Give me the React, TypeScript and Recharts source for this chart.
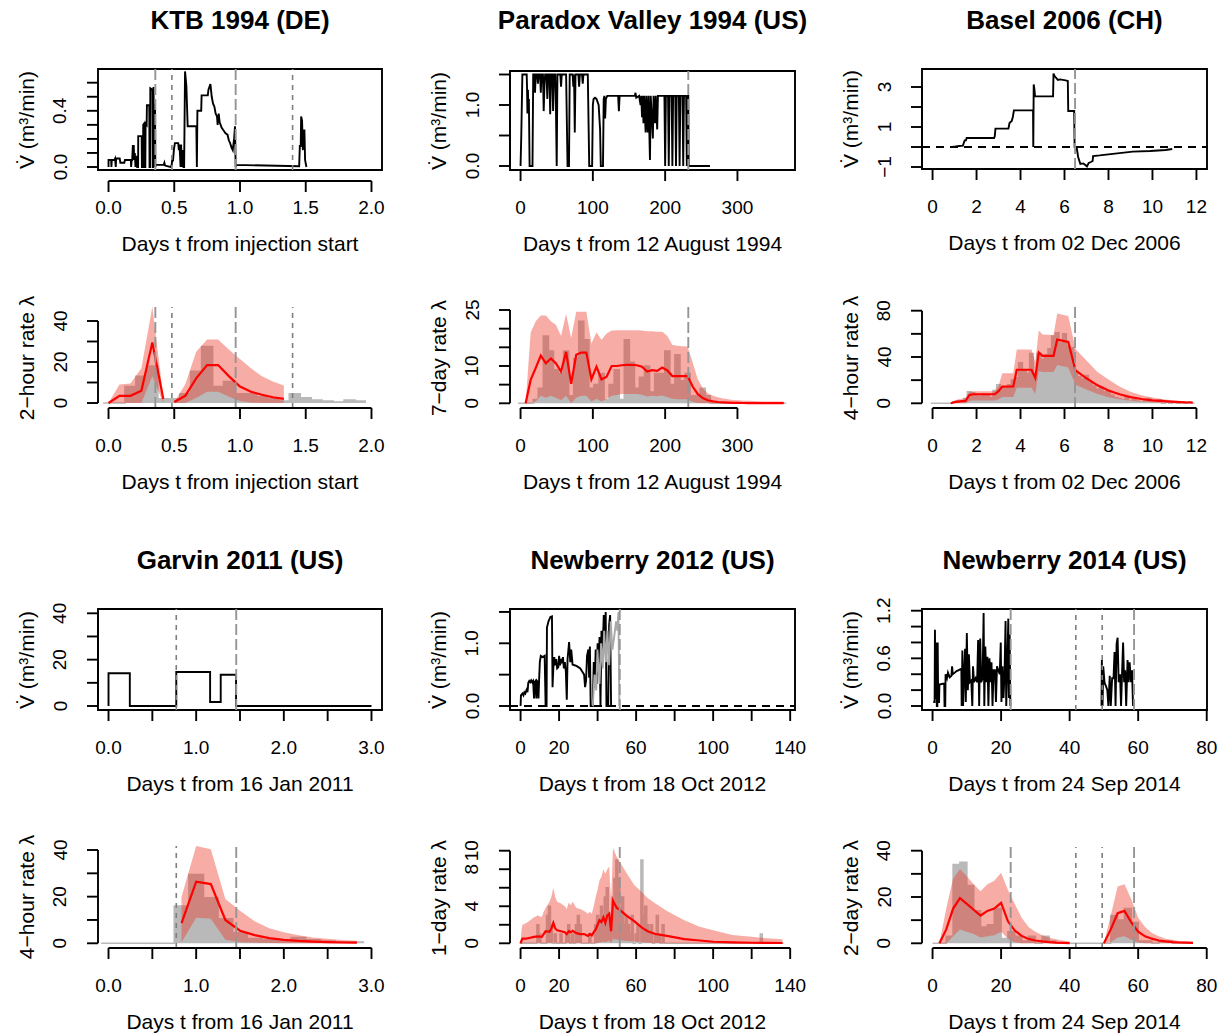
import React from 'react';
import { ComposedChart, Line, Area, XAxis, YAxis, ReferenceLine, ReferenceArea } from 'recharts';

const FONT = '"Liberation Sans", Arial, Helvetica, sans-serif';
const TICK_FS = 19;
const LAB_FS = 21;
const MAIN_FS = 26;

// ================= TEXT =================
const panelTitles = ['KTB 1994 (DE)', 'Paradox Valley 1994 (US)', 'Basel 2006 (CH)', 'Garvin 2011 (US)', 'Newberry 2012 (US)', 'Newberry 2014 (US)'];
const xTitles = ['Days t from injection start', 'Days t from 12 August 1994', 'Days t from 02 Dec 2006', 'Days t from 16 Jan 2011', 'Days t from 18 Oct 2012', 'Days t from 24 Sep 2014'];
const flowTitle = 'V\u0307 (m\u00b3/min)';
const rateTitles = ['2\u2212hour rate \u03bb', '7\u2212day rate \u03bb', '4\u2212hour rate \u03bb', '4\u2212hour rate \u03bb', '1\u2212day rate \u03bb', '2\u2212day rate \u03bb'];

// ================= TICKS =================
const ktbXTicks = [0, 0.5, 1, 1.5, 2];
const ktbXLabels = ['0.0', '0.5', '1.0', '1.5', '2.0'];
const pvXTicks = [0, 100, 200, 300];
const pvXLabels = ['0', '100', '200', '300'];
const bsXTicks = [0, 2, 4, 6, 8, 10, 12];
const bsXLabels = ['0', '2', '4', '6', '8', '10', '12'];
const gvXTicks = [0, 0.5, 1, 1.5, 2, 2.5, 3];
const gvXLabels = ['0.0', '', '1.0', '', '2.0', '', '3.0'];
const nb12XTicks = [0, 20, 40, 60, 80, 100, 120, 140];
const nb12XLabels = ['0', '20', '', '60', '', '100', '', '140'];
const nb14XTicks = [0, 20, 40, 60, 80];
const nb14XLabels = ['0', '20', '40', '60', '80'];

const ktbFlowYTicks = [0, 0.1, 0.2, 0.3, 0.4, 0.5, 0.6];
const ktbFlowYLabels = ['0.0', '', '', '', '0.4', '', ''];
const pvFlowYTicks = [0, 0.5, 1, 1.5];
const pvFlowYLabels = ['0.0', '', '1.0', ''];
const bsFlowYTicks = [-1, 0, 1, 2, 3];
const bsFlowYLabels = ['\u22121', '', '1', '', '3'];
const gvFlowYTicks = [0, 10, 20, 30, 40];
const gvFlowYLabels = ['0', '', '20', '', '40'];
const nb12FlowYTicks = [0, 0.5, 1, 1.5];
const nb12FlowYLabels = ['0.0', '', '1.0', ''];
const nb14FlowYTicks = [0, 0.2, 0.4, 0.6, 0.8, 1.0, 1.2];
const nb14FlowYLabels = ['0.0', '', '', '0.6', '', '', '1.2'];

const ktbRateYTicks = [0, 10, 20, 30, 40];
const ktbRateYLabels = ['0', '', '20', '', '40'];
const pvRateYTicks = [0, 5, 10, 15, 20, 25];
const pvRateYLabels = ['0', '', '10', '', '', '25'];
const bsRateYTicks = [0, 20, 40, 60, 80];
const bsRateYLabels = ['0', '', '40', '', '80'];
const gvRateYTicks = [0, 10, 20, 30, 40];
const gvRateYLabels = ['0', '', '20', '', '40'];
const nb12RateYTicks = [0, 2, 4, 6, 8, 10];
const nb12RateYLabels = ['0', '', '4', '', '8', '10'];
const nb14RateYTicks = [0, 10, 20, 30, 40];
const nb14RateYLabels = ['0', '', '20', '', '40'];

// ================= EVENTS (vertical markers) =================
const ktbEvents = [[0.356, 'L'], [0.482, 'S'], [0.967, 'L'], [1.40, 'S']];
const pvEvents = [[232, 'L']];
const bsEvents = [[6.48, 'L']];
const gvEvents = [[0.773, 'S'], [1.457, 'L']];
const nb12Events = [[51.5, 'L']];
const nb14Events = [[22.8, 'L'], [41.8, 'S'], [49.5, 'S'], [58.8, 'L']];

// ================= FLOW DATA [t, V] =================
const ktbFlow = [
  [0.0, 0.0], [0.0, 0.05], [0.02, 0.05], [0.022, 0.0], [0.025, 0.05], [0.045, 0.05], [0.05, 0.06], [0.055, 0.0], [0.058, 0.06], [0.085, 0.06], [0.09, 0.03], [0.12, 0.03], [0.125, 0.05], [0.17, 0.05], [0.172, 0.0], [0.176, 0.05], [0.18, 0.05], [0.185, 0.15], [0.192, 0.15], [0.195, 0.05], [0.2, 0.1], [0.205, 0.0], [0.212, 0.08], [0.218, 0.0], [0.225, 0.0], [0.226, 0.22], [0.252, 0.22], [0.254, 0.0], [0.262, 0.0], [0.264, 0.3], [0.272, 0.31], [0.274, 0.0], [0.28, 0.0], [0.282, 0.31], [0.29, 0.3], [0.292, 0.44], [0.31, 0.44], [0.312, 0.0], [0.316, 0.0], [0.318, 0.56], [0.334, 0.55], [0.336, 0.0], [0.34, 0.0], [0.342, 0.57], [0.346, 0.3], [0.35, 0.0], [0.354, 0.45], [0.356, 0.0], [0.36, 0.015], [0.42, 0.015], [0.425, 0.03], [0.43, 0.01], [0.47, 0.0], [0.48, 0.01], [0.485, 0.06], [0.49, 0.04], [0.498, 0.13], [0.505, 0.17], [0.53, 0.17], [0.535, 0.12], [0.54, 0.16], [0.548, 0.0], [0.552, 0.16], [0.558, 0.0], [0.563, 0.12], [0.57, 0.0], [0.575, 0.0], [0.582, 0.68], [0.592, 0.58], [0.602, 0.29], [0.668, 0.29], [0.672, 0.0], [0.676, 0.4], [0.705, 0.4], [0.708, 0.51], [0.755, 0.51], [0.76, 0.55], [0.775, 0.59], [0.785, 0.5], [0.795, 0.45], [0.805, 0.43], [0.815, 0.38], [0.825, 0.36], [0.83, 0.3], [0.838, 0.38], [0.845, 0.32], [0.86, 0.28], [0.875, 0.26], [0.89, 0.24], [0.905, 0.23], [0.915, 0.19], [0.925, 0.17], [0.935, 0.14], [0.945, 0.12], [0.955, 0.2], [0.962, 0.29], [0.967, 0.0], [0.97, 0.015], [1.45, 0.005], [1.455, 0.15], [1.462, 0.15], [1.465, 0.36], [1.472, 0.33], [1.478, 0.12], [1.482, 0.26], [1.49, 0.26], [1.495, 0.05], [1.505, 0.0],
];

const pvFlow = [
  [0, 0], [1, 0.5], [2.5, 1.5], [8.5, 1.5], [9, 1.27], [9.5, 0.86], [10.2, 1.25], [10.8, 0.9], [11.5, 1.1], [12.5, 0], [16.5, 0], [17.5, 1.5], [19, 1.5], [20, 1.2], [21, 1.5], [23, 1.5], [24, 1.35], [25, 1.5], [27, 1.5], [28, 1.2], [29, 1.5], [31, 1.5], [32, 0.9], [33, 1.3], [34, 1.5], [36, 1.5], [37, 1.1], [38, 1.5], [40, 1.5], [41, 0.85], [42, 1.5], [44, 1.5], [45, 0.9], [46, 1.5], [48, 1.5], [49, 0.9], [50, 0], [51, 1.5], [55, 1.5], [56, 1.3], [57, 1.5], [63, 1.5], [65, 0], [67, 0], [68, 1.5], [72, 1.5], [73, 1.3], [74, 1.5], [75, 0.55], [76, 1.5], [80, 1.5], [81, 1.3], [82, 1.5], [85, 1.5], [86, 1.35], [87, 1.5], [93, 1.5], [95, 0], [99, 0], [100, 1.0], [101, 1.1], [103, 1.12], [105, 1.1], [108, 1.0], [110, 0.6], [111, 0], [114, 0], [115, 1.1], [116, 1.15], [117, 0.78], [118, 1.1], [120, 1.15], [135, 1.15], [136, 0.9], [137, 1.15], [158, 1.15], [159, 1.2], [160, 1.12], [164, 1.15], [166, 1.0], [167, 1.15], [168, 0.8], [169, 1.15], [170, 0.7], [171, 1.15], [173, 0.55], [174, 1.15], [176, 0.55], [177, 1.15], [179, 0.1], [180, 1.15], [183, 0.45], [184, 1.15], [186, 0.7], [187, 1.15], [189, 0.6], [190, 1.15], [199, 1.15], [200, 0], [201, 1.15], [204, 1.15], [205, 0], [206, 1.15], [209, 1.15], [210, 0], [211, 1.15], [214, 1.15], [215, 0], [216, 1.15], [219, 1.15], [220, 0], [221, 1.15], [224, 1.15], [225, 0], [226, 1.15], [229, 1.15], [230, 0], [231, 1.15], [232, 1.15], [232.5, 0], [262, 0],
];

const bsFlow = [
  [0.85, 0], [1.0, 0.02], [1.2, 0.05], [1.38, 0.07], [1.42, 0.2], [1.46, 0.33], [1.52, 0.33], [1.55, 0.45], [2.8, 0.45], [2.83, 0.55], [2.86, 0.92], [3.45, 0.92], [3.5, 1.2], [3.6, 1.3], [3.65, 1.5], [3.7, 1.83], [4.57, 1.83], [4.58, 0], [4.6, 3.13], [4.63, 2.9], [4.66, 2.53], [5.48, 2.53], [5.5, 3.67], [5.55, 3.55], [5.62, 3.45], [5.7, 3.35], [5.8, 3.38], [6.05, 3.33], [6.15, 3.3], [6.17, 1.8], [6.44, 1.8], [6.46, 0], [6.55, 0], [6.62, -0.5], [6.72, -0.85], [6.85, -0.82], [6.95, -0.9], [7.02, -0.97], [7.1, -0.8], [7.2, -0.75], [7.28, -0.7], [7.3, -0.45], [7.6, -0.42], [8.0, -0.37], [8.4, -0.32], [9.1, -0.23], [9.9, -0.2], [10.6, -0.15], [10.9, -0.1],
];

const gvFlow = [
  [0, 0], [0, 14.1], [0.243, 14.1], [0.243, 0], [0.773, 0], [0.773, 14.7], [1.159, 14.7], [1.159, 1.7], [1.28, 1.7], [1.28, 13.5], [1.455, 13.5], [1.455, 0], [3.0, 0],
];

const nb12Flow = [
  [0, 0], [0.2, 0.17], [1, 0.2], [1.5, 0.17], [2, 0.22], [2.5, 0.2], [3, 0.25], [3.3, 0.27], [3.6, 0.22], [4, 0.37], [4.5, 0.4], [5, 0.38], [5.5, 0.41], [6, 0.38], [6.5, 0.4], [7, 0.12], [7.3, 0.38], [7.8, 0.4], [8.2, 0.12], [8.5, 0.4], [9, 0.38], [9.3, 0.12], [9.6, 0.4], [10, 0.7], [10.5, 0.8], [11.5, 0.78], [12.5, 0.8], [13, 0], [13.5, 0], [13.7, 1.25], [14.5, 1.35], [15.5, 1.42], [16.3, 1.43], [16.6, 0.3], [17, 0.6], [17.5, 0.78], [18, 0.65], [18.5, 0.75], [19, 0.6], [19.6, 0.62], [20, 0.8], [20.5, 0.65], [21, 0.75], [21.4, 0.68], [22, 0.78], [22.5, 0.6], [23, 0.7], [23.5, 0.55], [24, 0.1], [24.4, 0.75], [25.2, 1.02], [25.8, 0.7], [26.3, 0.9], [27, 0.66], [28, 0.65], [29, 0.64], [30, 0.62], [31, 0.6], [32, 0.55], [33, 0.5], [33.5, 0.3], [34, 0.4], [34.5, 0.8], [35.2, 0.9], [35.6, 0.45], [36, 0.95], [36.4, 0], [37.5, 0], [38, 0.7], [38.5, 0.3], [39, 0.9], [39.5, 0.35], [40, 1.0], [40.5, 0.5], [41, 1.1], [41.5, 0], [42, 1.2], [42.5, 0.8], [43.2, 1.45], [43.7, 1.1], [44.2, 1.5], [44.6, 0], [45.5, 0], [46, 1.3], [46.5, 1.45], [47, 0],
];
const nb12Flow2 = [
  [37.5, 0], [38.4, 0.5], [39.3, 0.25], [39.9, 0.9], [41.0, 0.35], [41.8, 1.0], [42.7, 0.6], [43.4, 1.2], [44.3, 0.7], [45.1, 1.2], [46.0, 0.65], [46.8, 1.35], [47.7, 0.9], [48.6, 1.1], [49.6, 1.35], [50.3, 1.2], [50.8, 1.5], [51.3, 0],
];

const nb14FlowA = [
  [0.2, 0.05], [0.6, 0.05], [0.7, 0.96], [0.85, 0.1], [1.0, 0.1], [1.1, 0.8], [1.25, 0], [1.4, 0], [1.5, 0.8], [1.65, 0.05], [1.9, 0.05], [2.0, 0.27], [3.0, 0.28], [3.4, 0.28], [3.5, 0], [3.7, 0], [3.8, 0.4], [4.2, 0.35], [4.5, 0.42], [5.0, 0.36], [5.5, 0.38], [5.7, 0.5], [5.9, 0.4], [6.5, 0.42], [7.0, 0.44], [7.5, 0.45], [8.0, 0.46], [8.4, 0.47], [8.5, 0], [8.7, 0.7], [8.9, 0], [9.2, 0.4], [9.5, 0.72], [9.7, 0.05], [10.0, 0.92], [10.3, 0.2], [10.6, 0.65], [10.9, 0.3], [11.3, 0.32], [11.6, 0.0], [11.8, 0.5], [12.1, 0.3], [12.6, 0.35], [13.0, 0.3], [13.3, 0.83], [13.6, 0.0], [13.9, 0.85], [14.2, 0.3], [14.6, 0.35], [14.9, 1.17], [15.1, 0], [15.4, 0.75], [15.7, 0.3], [16.0, 0.62], [16.3, 0], [16.6, 0.6], [16.9, 0.3], [17.2, 0.55], [17.5, 0], [17.8, 0.45], [18.2, 0.45], [18.5, 0.05], [18.8, 0.5], [19.2, 0.45], [19.6, 0.4], [19.9, 0.8], [20.1, 0.05], [20.4, 0.5], [20.7, 0.1], [21.0, 0.4], [21.3, 1.07], [21.5, 0], [21.8, 0.45], [22.1, 1.1], [22.3, 0.1], [22.5, 0.9], [22.7, 0],
];
const nb14FlowB = [
  [49.3, 0], [49.4, 0.58], [49.6, 0], [49.8, 0.5], [50.2, 0.29], [50.6, 0.25], [51.0, 0.2], [51.3, 0], [51.7, 0.38], [52.0, 0], [52.4, 0.35], [52.8, 0.35], [53.1, 0.68], [53.4, 0], [53.7, 0.78], [54.0, 0.86], [54.3, 0.3], [54.7, 0.4], [55.0, 0], [55.3, 0.42], [55.6, 0.8], [55.9, 0.3], [56.2, 0.45], [56.5, 0], [56.9, 0.58], [57.2, 0.3], [57.5, 0.55], [57.9, 0.3], [58.2, 0.45], [58.5, 0],
];

// ================= OBSERVED COUNTS (histograms) =================
const ktbBinWidth = 1 / 12;
const ktbFirstCenter = 0;
const ktbCounts = [0, 0, 8, 13, 18, 2, 2, 4.5, 15.5, 27.5, 8, 10.5, 4.5, 4.5, 3, 2, 1, 4.5, 2.5, 1.5, 1, 0.5, 1.5, 1];

const pvBinWidth = 7;
const pvFirstCenter = 0;
const pvCounts = [0, 0, 0, 1, 4, 18, 14, 9, 8, 14, 2, 12, 22, 17, 4, 5, 8, 1, 5, 9, 1, 17, 11, 4, 7, 10, 3, 8, 8, 14, 5, 13, 6, 8, 2, 2, 4, 2, 0, 0, 0, 0, 0, 0, 0, 0, 0, 0, 0, 0, 0, 0, 0];

const bsBinWidth = 1 / 6;
const bsFirstCenter = 0;
const bsCounts = [
  0, 0, 0, 0, 0, 0, 1, 2, 1, 4, 10, 9, 7, 6, 8, 7, 5, 11, 16, 14, 13, 16, 20, 22,
  35, 28, 26, 43, 25, 43, 38, 42, 47, 58, 61, 52, 60, 49, 48, 26, 23, 21, 24, 18, 15, 12, 14, 10,
  11, 7, 5, 4, 3, 5, 2, 3, 2, 1, 2, 4, 1, 1, 3, 0, 1, 0, 1, 0, 1, 0, 1, 0,
];

const gvBinWidth = 1 / 6;
const gvFirstCenter = 0;
const gvCounts = [0, 0, 0, 0, 0, 16, 29.5, 19.5, 10.5, 4.5, 2, 1.5, 1, 2.5, 1.5, 1, 0.5, 0.5];

const nb12BinWidth = 1;
const nb12FirstCenter = 0;
const nb12Counts = [
  0, 0, 0, 0, 0, 0, 0, 0, 0, 2,
  1, 0, 0, 0, 3, 4, 2, 0, 1, 0,
  0, 1, 0, 0, 1, 2, 0, 1, 0, 2,
  3, 2, 0, 0, 0, 0, 1, 0, 0, 2,
  3, 2, 4, 2, 5, 6, 3, 2, 5, 7,
  9, 7, 3, 5, 2, 3, 2, 1, 3, 0,
  1, 2, 0, 9, 3, 4, 2, 1, 2, 0,
  1, 3, 1, 0, 2, 0, 0, 0, 0, 0,
  0, 0, 0, 0, 0, 0, 0, 0, 0, 0,
  0, 0, 0, 0, 0, 0, 0, 0, 0, 0,
  0, 0, 0, 0, 0, 0, 0, 0, 0, 0,
  0, 0, 0, 0, 0, 0, 0, 0, 0, 0,
  0, 0, 0, 0, 0, 1, 0, 0, 0, 0,
  0, 0, 0, 0, 0, 0, 0,
];

const nb14BinWidth = 2;
const nb14FirstCenter = 1;
const nb14Counts = [0, 0, 3, 34, 35, 25, 14, 7, 8, 15, 2, 5, 3, 1, 3, 0, 3, 1, 0, 0, 0, 0, 0, 0, 0, 0, 12, 10, 15, 9, 1, 1, 0, 1, 1, 0, 0, 0];

// ================= MODEL RATE (per segment): t, median, lower, upper =================
const ktbRateT = [[0, 1 / 12, 2 / 12, 3 / 12, 4 / 12, 5 / 12], [6 / 12, 7 / 12, 8 / 12, 9 / 12, 10 / 12, 11 / 12, 12 / 12, 13 / 12, 14 / 12, 15 / 12, 16 / 12]];
const ktbRateMid = [[0, 3.5, 3.5, 6, 29.5, 2], [0.5, 3.5, 12, 18.5, 18.5, 13, 8, 5.5, 4, 2.8, 2]];
const ktbRateLo = [[0, 0, 0, 0, 13, 0], [0, 0, 2.5, 5.5, 5.5, 3, 1, 0.3, 0, 0, 0]];
const ktbRateHi = [[0, 9, 9.5, 17, 47, 3], [0.5, 9, 25, 31, 31, 26, 21.5, 17, 13, 10.5, 8.5]];

const pvRateT = [[7, 14, 21, 28, 35, 42, 49, 56, 63, 70, 77, 84, 91, 98, 105, 112, 119, 126, 133, 140, 147, 154, 161, 168, 175, 182, 189, 196, 203, 210, 217, 224, 231, 238, 245, 252, 259, 266, 273, 280, 287, 294, 301, 308, 315, 322, 329, 336, 343, 350, 357, 364]];
const pvRateMid = [[0, 6.3, 9.5, 12.8, 10.7, 12, 10.7, 8.5, 13.8, 5.2, 13, 13.6, 13.6, 6.4, 9.8, 6.4, 7.1, 10, 10, 10.2, 10.3, 10.3, 10.2, 9.8, 8.5, 8.9, 8.7, 9.6, 8.8, 7.3, 7.3, 7.3, 7.3, 4.5, 2.5, 1.4, 0.8, 0.5, 0.35, 0.25, 0.18, 0.12, 0.1, 0.08, 0.07, 0.06, 0.05, 0.05, 0.05, 0.05, 0.04, 0.04]];
const pvRateLo = [[0, 0, 0.5, 2, 1.5, 2, 1.5, 0.8, 2, 0, 1.5, 2, 2, 0.5, 1.2, 0.5, 1.2, 2, 2.2, 2.5, 2.5, 2.5, 2.5, 2.3, 1.8, 2, 1.9, 2.1, 1.6, 1.2, 1.1, 1.1, 1.1, 0.4, 0.1, 0, 0, 0, 0, 0, 0, 0, 0, 0, 0, 0, 0, 0, 0, 0, 0, 0]];
const pvRateHi = [[0, 19, 22, 23.5, 23.5, 22, 21, 18, 24, 17.5, 24.5, 24.5, 24.5, 16, 19, 17, 18.7, 19.5, 19.6, 19.6, 19.6, 19.6, 19.6, 19.5, 19.3, 19.3, 19.2, 19.2, 18, 15.6, 15.4, 15.3, 15.2, 11, 6.5, 4, 2.7, 2, 1.6, 1.3, 1.1, 0.9, 0.8, 0.7, 0.65, 0.6, 0.55, 0.5, 0.5, 0.45, 0.45, 0.45]];

const bsRateT = [[0.83, 1.0, 1.17, 1.33, 1.5, 1.67, 1.83, 2.83, 3.0, 3.17, 3.67, 3.83, 4.5, 4.67, 4.83, 5.0, 5.5, 5.67, 6.17, 6.5, 7.0, 7.5, 8.0, 8.5, 9.0, 9.5, 10.0, 10.5, 11.0, 11.5, 11.83]];
const bsRateMid = [[0, 1, 1.5, 1.8, 2, 7, 7.8, 7.8, 10.5, 14.4, 14.5, 29, 29, 22, 44, 41, 41, 55, 53, 28.5, 21.6, 15.5, 11, 7.8, 5.3, 3.7, 2.6, 1.8, 1.2, 0.8, 0.7]];
const bsRateLo = [[0, 0, 0, 0, 0, 2, 2.5, 2.5, 3.5, 5.5, 5.5, 13.5, 13.5, 8, 28, 27, 27, 33, 31, 16, 12, 8, 5.2, 3.5, 2.2, 1.3, 0.8, 0.5, 0.3, 0.2, 0.1]];
const bsRateHi = [[0, 2.5, 3.5, 4, 4.5, 10, 10.5, 10.5, 15, 26, 26, 46.5, 46.5, 35, 63, 59.5, 59, 77.5, 75.5, 47, 37, 27, 20.5, 14.5, 10, 7, 5, 3.5, 2.5, 1.8, 1.5]];

const gvRateT = [[0.833, 1.0, 1.167, 1.333, 1.5, 1.667, 1.833, 2.0, 2.167, 2.333, 2.5, 2.667, 2.833]];
const gvRateMid = [[8.6, 26.4, 25.4, 10, 5.4, 3.5, 2.2, 1.5, 1.0, 0.7, 0.5, 0.35, 0.25]];
const gvRateLo = [[0.5, 11, 10.5, 1.5, 0.5, 0.2, 0.1, 0, 0, 0, 0, 0, 0]];
const gvRateHi = [[20, 41.7, 40.3, 19, 14, 9.5, 6.5, 4.7, 3.4, 2.5, 1.9, 1.4, 1.1]];

const nb12RateT = [[0, 0.5, 1, 3, 5, 7, 9, 11, 12, 13, 15, 16, 17, 18, 19, 21, 23, 24, 25, 26, 27, 29, 31, 33, 35, 36, 37, 38, 39, 40, 41, 42, 43, 44, 45, 46, 47, 48, 49, 50, 51, 55, 59, 63, 66, 70, 76, 85, 93, 100, 110, 120, 128, 136]];
const nb12RateMid = [[0, 0.3, 0.5, 0.5, 0.6, 0.7, 0.75, 0.7, 1.0, 1.3, 1.25, 1.6, 2.2, 1.6, 1.4, 1.3, 1.2, 1.0, 1.3, 1.2, 1.35, 1.1, 1.0, 1.0, 0.8, 1.0, 0.85, 1.2, 1.5, 2.0, 2.5, 2.3, 2.8, 2.2, 3.0, 3.2, 1.3, 4.6, 4.2, 3.8, 3.7, 3.0, 2.4, 1.7, 1.3, 1.0, 0.8, 0.45, 0.3, 0.17, 0.1, 0.06, 0.04, 0.03]];
const nb12RateLo = [[0, 0, 0, 0, 0, 0, 0, 0, 0, 0, 0, 0, 0.1, 0, 0, 0, 0, 0, 0, 0, 0, 0, 0, 0, 0, 0, 0, 0, 0, 0, 0.1, 0.1, 0.2, 0.1, 0.2, 0.3, 0, 0.5, 0.4, 0.4, 0.35, 0.25, 0.2, 0.1, 0.05, 0, 0, 0, 0, 0, 0, 0, 0, 0]];
const nb12RateHi = [[0, 1.5, 2, 2.2, 2.5, 2.8, 3, 2.8, 3.4, 3.8, 4.5, 5, 6, 5, 4.5, 4.3, 4, 3.7, 4.4, 4.1, 4.5, 3.8, 3.7, 3.5, 3.2, 3.4, 3.2, 4, 5, 5.8, 6.8, 7.2, 8, 7.5, 8, 8.3, 4.6, 10.3, 9.8, 9.3, 9.0, 7.6, 6.3, 5.5, 4.9, 4.3, 3.5, 2.5, 1.8, 1.4, 0.9, 0.7, 0.55, 0.45]];

const nb14RateT = [[2, 4, 6, 8, 10, 12, 14, 16, 18, 20, 22, 24, 26, 28, 30, 32, 34, 36, 38, 40], [50, 52, 54, 56, 58, 60, 62, 64, 66, 68, 70, 72, 74, 76]];
const nb14RateMid = [[0, 6, 15, 19.5, 17, 14.5, 12, 14, 15, 17.5, 9.5, 5.5, 3.2, 1.9, 1.2, 0.8, 0.5, 0.3, 0.2, 0.1], [0, 6, 13, 14, 9, 5, 3, 2, 1.2, 0.8, 0.5, 0.35, 0.25, 0.2]];
const nb14RateLo = [[0, 0, 3, 6, 5, 4, 2.5, 3, 3.5, 5, 2, 0.5, 0, 0, 0, 0, 0, 0, 0, 0], [0, 0.5, 2.5, 3, 1.5, 0.3, 0, 0, 0, 0, 0, 0, 0, 0]];
const nb14RateHi = [[0, 15, 28, 32, 29, 25.5, 22.5, 25.5, 27, 30.5, 23, 17, 11, 7, 5, 3.5, 2.5, 1.8, 1.2, 0.8], [0, 12, 24.5, 25.5, 19, 11, 7, 4.5, 3, 2, 1.5, 1, 0.8, 0.6]];

// ================= STYLE =================
const BAR = '#b9b9b9';
const BAND = 'rgb(235,60,40)';
const BAND_OP = 0.42;
const AXW = 1.9;
const TICK = 11;
const YW = 80;
const MT = 12;
const MR = 20;
const XH = 60;

// ================= HELPERS =================
const toPts = (pairs: number[][]) => pairs.map((p) => ({ x: p[0], y: p[1] }));

function histPts(firstCenter: number, width: number, counts: number[]) {
  const start = firstCenter - width / 2;
  const pts = counts.map((c, i) => ({ x: start + i * width, y: c }));
  pts.push({ x: start + counts.length * width, y: counts[counts.length - 1] });
  return pts;
}

function rateRows(T: number[][], M: number[][], Lo: number[][], Hi: number[][]) {
  return T.map((ts, s) => ts.map((t, i) => ({ x: t, mid: M[s][i], lo: Lo[s][i], hi: Hi[s][i] })));
}

function cal(v0: number, p0: number, v1: number, p1: number, top: number, bottom: number): [number, number] {
  const ppu = (p0 - p1) / (v1 - v0);
  return [v0 - (bottom - p0) / ppu, v1 + (p1 - top) / ppu];
}

function flowSeries(key: string, lines: { pts: number[][]; color: string }[]) {
  return lines.map((l, i) => (
    <Line key={key + i} data={toPts(l.pts)} dataKey="y" type="linear" stroke={l.color} strokeWidth={1.9} dot={false} activeDot={false} isAnimationActive={false} />
  ));
}

function rateSeries(key: string, hist: { x: number; y: number }[], segs: any[][]) {
  const out: React.ReactNode[] = [];
  out.push(
    <Area key={key + 'h'} data={hist} dataKey="y" type="stepAfter" baseValue={0} fill={BAR} fillOpacity={1} stroke={BAR} strokeWidth={1.6} dot={false} activeDot={false} isAnimationActive={false} />
  );
  segs.forEach((rows, i) => {
    out.push(
      <Area key={key + 'b' + i} data={rows} dataKey={(d: any) => [d.lo, d.hi]} type="linear" fill={BAND} fillOpacity={BAND_OP} stroke="none" dot={false} activeDot={false} isAnimationActive={false} />
    );
  });
  segs.forEach((rows, i) => {
    out.push(
      <Line key={key + 'l' + i} data={rows} dataKey="mid" type="linear" stroke="#ff0000" strokeWidth={2.2} dot={false} activeDot={false} isAnimationActive={false} />
    );
  });
  return out;
}

interface PanelCfg {
  plot: [number, number, number, number];
  xDomain: [number, number];
  yDomain: [number, number];
  xTicks: number[];
  xLabels: string[];
  yTicks: number[];
  yLabels: string[];
  axisGap: number;
  box: boolean;
  xTitle: string;
  yTitle: string;
  events: any[];
  zeroDash?: boolean;
  series: React.ReactNode[];
}

function Panel({ cfg }: { cfg: PanelCfg }) {
  const [L, T, R, B] = cfg.plot;
  const pw = R - L;
  const ph = B - T;
  const xd = cfg.xDomain;
  const yd = cfg.yDomain;
  const axisVal = yd[0] - (cfg.axisGap * (yd[1] - yd[0])) / ph;

  const xTick = (p: any) => {
    const v = p.payload.value;
    const idx = cfg.xTicks.findIndex((t) => Math.abs(t - v) < 1e-9);
    const lab = idx >= 0 ? cfg.xLabels[idx] : '';
    return (
      <g>
        <line x1={p.x} x2={p.x} y1={p.y + cfg.axisGap} y2={p.y + cfg.axisGap + TICK} stroke="#000" strokeWidth={AXW} />
        {lab ? (
          <text x={p.x} y={p.y + 37} textAnchor="middle" dominantBaseline="central" fontSize={TICK_FS} fontFamily={FONT} fill="#000">
            {lab}
          </text>
        ) : null}
      </g>
    );
  };
  const yTick = (p: any) => {
    const v = p.payload.value;
    const idx = cfg.yTicks.findIndex((t) => Math.abs(t - v) < 1e-9);
    const lab = idx >= 0 ? cfg.yLabels[idx] : '';
    const tx = p.x - 38;
    return (
      <g>
        <line x1={p.x - TICK} x2={p.x} y1={p.y} y2={p.y} stroke="#000" strokeWidth={AXW} />
        {lab ? (
          <text x={tx} y={p.y} transform={`rotate(-90 ${tx} ${p.y})`} textAnchor="middle" dominantBaseline="central" fontSize={TICK_FS} fontFamily={FONT} fill="#000">
            {lab}
          </text>
        ) : null}
      </g>
    );
  };

  return (
    <>
      <div style={{ position: 'absolute', left: L - YW, top: T - MT }}>
        <ComposedChart width={YW + pw + MR} height={MT + ph + XH} margin={{ top: MT, right: MR, bottom: 0, left: 0 }}>
          <XAxis type="number" dataKey="x" domain={xd} allowDataOverflow ticks={cfg.xTicks} interval={0} height={XH} tickSize={0} tickMargin={0} axisLine={false} tickLine={false} tick={xTick} />
          <YAxis type="number" domain={yd} allowDataOverflow ticks={cfg.yTicks} interval={0} width={YW} tickSize={0} tickMargin={0} axisLine={false} tickLine={false} tick={yTick} />
          {cfg.series}
          {cfg.zeroDash ? <ReferenceLine y={0} stroke="#000" strokeWidth={1.8} strokeDasharray="8 6" ifOverflow="visible" /> : null}
          {cfg.events.map((e, i) => (
            <ReferenceLine key={'ev' + i} x={e[0]} stroke={e[1] === 'L' ? '#959595' : '#7f7f7f'} strokeWidth={e[1] === 'L' ? 1.9 : 1.6} strokeDasharray={e[1] === 'L' ? '11 4' : '5 5'} ifOverflow="visible" />
          ))}
          {cfg.box ? (
            <ReferenceArea x1={xd[0]} x2={xd[1]} y1={yd[0]} y2={yd[1]} fill="none" fillOpacity={0} stroke="#000" strokeWidth={AXW} strokeOpacity={1} ifOverflow="visible" />
          ) : null}
          <ReferenceLine segment={[{ x: xd[0], y: cfg.yTicks[0] }, { x: xd[0], y: cfg.yTicks[cfg.yTicks.length - 1] }]} stroke="#000" strokeWidth={AXW} ifOverflow="visible" />
          {cfg.box && cfg.axisGap === 0 ? null : (
            <ReferenceLine segment={[{ x: cfg.xTicks[0], y: axisVal }, { x: cfg.xTicks[cfg.xTicks.length - 1], y: axisVal }]} stroke="#000" strokeWidth={AXW} ifOverflow="visible" />
          )}
        </ComposedChart>
      </div>
      <div style={{ position: 'absolute', left: (L + R) / 2, top: B + 73, transform: 'translate(-50%, -50%)', whiteSpace: 'nowrap', fontFamily: FONT, fontSize: LAB_FS, color: '#000', lineHeight: 1 }}>
        {cfg.xTitle}
      </div>
      <div style={{ position: 'absolute', left: L - 72, top: (T + B) / 2, transform: 'translate(-50%, -50%) rotate(-90deg)', whiteSpace: 'nowrap', fontFamily: FONT, fontSize: LAB_FS, color: '#000', lineHeight: 1 }}>
        {cfg.yTitle}
      </div>
    </>
  );
}

// ================= LAYOUT =================
const COLS: [number, number][] = [[98, 382], [510, 795], [922, 1207]];

export default function App() {
  const [c1, c2, c3] = COLS;
  const panels: PanelCfg[] = [
    // ---- row 1 flows ----
    {
      plot: [c1[0], 69, c1[1], 170], xDomain: [-0.08, 2.08], yDomain: cal(0, 167, 0.6, 82.7, 69, 170),
      xTicks: ktbXTicks, xLabels: ktbXLabels, yTicks: ktbFlowYTicks, yLabels: ktbFlowYLabels, axisGap: 11, box: true,
      xTitle: xTitles[0], yTitle: flowTitle, events: ktbEvents, series: flowSeries('kf', [{ pts: ktbFlow, color: '#000' }]),
    },
    {
      plot: [c2[0], 71, c2[1], 170], xDomain: [-14.6, 379.6], yDomain: cal(0, 166, 1.0, 105, 71, 170),
      xTicks: pvXTicks, xLabels: pvXLabels, yTicks: pvFlowYTicks, yLabels: pvFlowYLabels, axisGap: 0, box: true,
      xTitle: xTitles[1], yTitle: flowTitle, events: pvEvents, series: flowSeries('pf', [{ pts: pvFlow, color: '#000' }]),
    },
    {
      plot: [c3[0], 69, c3[1], 169], xDomain: [-0.48, 12.48], yDomain: cal(-1, 167, 3, 87, 69, 169),
      xTicks: bsXTicks, xLabels: bsXLabels, yTicks: bsFlowYTicks, yLabels: bsFlowYLabels, axisGap: 0, box: true, zeroDash: true,
      xTitle: xTitles[2], yTitle: flowTitle, events: bsEvents, series: flowSeries('bf', [{ pts: bsFlow, color: '#000' }]),
    },
    // ---- row 1 rates ----
    {
      plot: [c1[0], 307, c1[1], 408], xDomain: [-0.08, 2.08], yDomain: cal(0, 403, 40, 321, 307, 408),
      xTicks: ktbXTicks, xLabels: ktbXLabels, yTicks: ktbRateYTicks, yLabels: ktbRateYLabels, axisGap: 0, box: false,
      xTitle: xTitles[0], yTitle: rateTitles[0], events: ktbEvents,
      series: rateSeries('kr', histPts(ktbFirstCenter, ktbBinWidth, ktbCounts), rateRows(ktbRateT, ktbRateMid, ktbRateLo, ktbRateHi)),
    },
    {
      plot: [c2[0], 307, c2[1], 408], xDomain: [-14.6, 379.6], yDomain: cal(0, 403.3, 25, 310, 307, 408),
      xTicks: pvXTicks, xLabels: pvXLabels, yTicks: pvRateYTicks, yLabels: pvRateYLabels, axisGap: 0, box: false,
      xTitle: xTitles[1], yTitle: rateTitles[1], events: pvEvents,
      series: rateSeries('pr', histPts(pvFirstCenter, pvBinWidth, pvCounts), rateRows(pvRateT, pvRateMid, pvRateLo, pvRateHi)),
    },
    {
      plot: [c3[0], 307, c3[1], 408], xDomain: [-0.48, 12.48], yDomain: cal(0, 403.3, 80, 310.7, 307, 408),
      xTicks: bsXTicks, xLabels: bsXLabels, yTicks: bsRateYTicks, yLabels: bsRateYLabels, axisGap: 0, box: false,
      xTitle: xTitles[2], yTitle: rateTitles[2], events: bsEvents,
      series: rateSeries('br', histPts(bsFirstCenter, bsBinWidth, bsCounts), rateRows(bsRateT, bsRateMid, bsRateLo, bsRateHi)),
    },
    // ---- row 2 flows ----
    {
      plot: [c1[0], 609, c1[1], 710], xDomain: [-0.12, 3.12], yDomain: cal(0, 706, 40, 613.3, 609, 710),
      xTicks: gvXTicks, xLabels: gvXLabels, yTicks: gvFlowYTicks, yLabels: gvFlowYLabels, axisGap: 0, box: true,
      xTitle: xTitles[3], yTitle: flowTitle, events: gvEvents, series: flowSeries('gf', [{ pts: gvFlow, color: '#000' }]),
    },
    {
      plot: [c2[0], 609, c2[1], 710], xDomain: [-5.49, 142.5], yDomain: cal(0, 706, 1.0, 643.3, 609, 710),
      xTicks: nb12XTicks, xLabels: nb12XLabels, yTicks: nb12FlowYTicks, yLabels: nb12FlowYLabels, axisGap: 0, box: true, zeroDash: true,
      xTitle: xTitles[4], yTitle: flowTitle, events: nb12Events,
      series: flowSeries('n2f', [{ pts: nb12Flow, color: '#000' }, { pts: nb12Flow2, color: '#a9a9a9' }]),
    },
    {
      plot: [c3[0], 609, c3[1], 710], xDomain: [-3.08, 80.08], yDomain: cal(0, 706, 1.2, 610.7, 609, 710),
      xTicks: nb14XTicks, xLabels: nb14XLabels, yTicks: nb14FlowYTicks, yLabels: nb14FlowYLabels, axisGap: 0, box: true,
      xTitle: xTitles[5], yTitle: flowTitle, events: nb14Events,
      series: flowSeries('n4f', [{ pts: nb14FlowA, color: '#000' }, { pts: nb14FlowB, color: '#000' }]),
    },
    // ---- row 2 rates ----
    {
      plot: [c1[0], 846, c1[1], 948], xDomain: [-0.12, 3.12], yDomain: cal(0, 943.3, 40, 850, 846, 948),
      xTicks: gvXTicks, xLabels: gvXLabels, yTicks: gvRateYTicks, yLabels: gvRateYLabels, axisGap: 0, box: false,
      xTitle: xTitles[3], yTitle: rateTitles[3], events: gvEvents,
      series: rateSeries('gr', histPts(gvFirstCenter, gvBinWidth, gvCounts), rateRows(gvRateT, gvRateMid, gvRateLo, gvRateHi)),
    },
    {
      plot: [c2[0], 847, c2[1], 948], xDomain: [-5.49, 142.5], yDomain: cal(0, 943.3, 10, 850.7, 847, 948),
      xTicks: nb12XTicks, xLabels: nb12XLabels, yTicks: nb12RateYTicks, yLabels: nb12RateYLabels, axisGap: 0, box: false,
      xTitle: xTitles[4], yTitle: rateTitles[4], events: nb12Events,
      series: rateSeries('n2r', histPts(nb12FirstCenter, nb12BinWidth, nb12Counts), rateRows(nb12RateT, nb12RateMid, nb12RateLo, nb12RateHi)),
    },
    {
      plot: [c3[0], 847, c3[1], 948], xDomain: [-3.08, 80.08], yDomain: cal(0, 943.3, 40, 850.7, 847, 948),
      xTicks: nb14XTicks, xLabels: nb14XLabels, yTicks: nb14RateYTicks, yLabels: nb14RateYLabels, axisGap: 0, box: false,
      xTitle: xTitles[5], yTitle: rateTitles[5], events: nb14Events,
      series: rateSeries('n4r', histPts(nb14FirstCenter, nb14BinWidth, nb14Counts), rateRows(nb14RateT, nb14RateMid, nb14RateLo, nb14RateHi)),
    },
  ];

  const titleRows = [20, 560];
  return (
    <div style={{ position: 'absolute', left: 0, top: 0, width: 1232, height: 1036, background: '#fff', overflow: 'hidden' }}>
      {panelTitles.map((t, i) => {
        const col = COLS[i % 3];
        return (
          <div key={'t' + i} style={{ position: 'absolute', left: (col[0] + col[1]) / 2, top: titleRows[Math.floor(i / 3)], transform: 'translate(-50%, -50%)', whiteSpace: 'nowrap', fontFamily: FONT, fontWeight: 'bold', fontSize: MAIN_FS, color: '#000', lineHeight: 1 }}>
            {t}
          </div>
        );
      })}
      {panels.map((p, i) => (
        <Panel key={'p' + i} cfg={p} />
      ))}
    </div>
  );
}
